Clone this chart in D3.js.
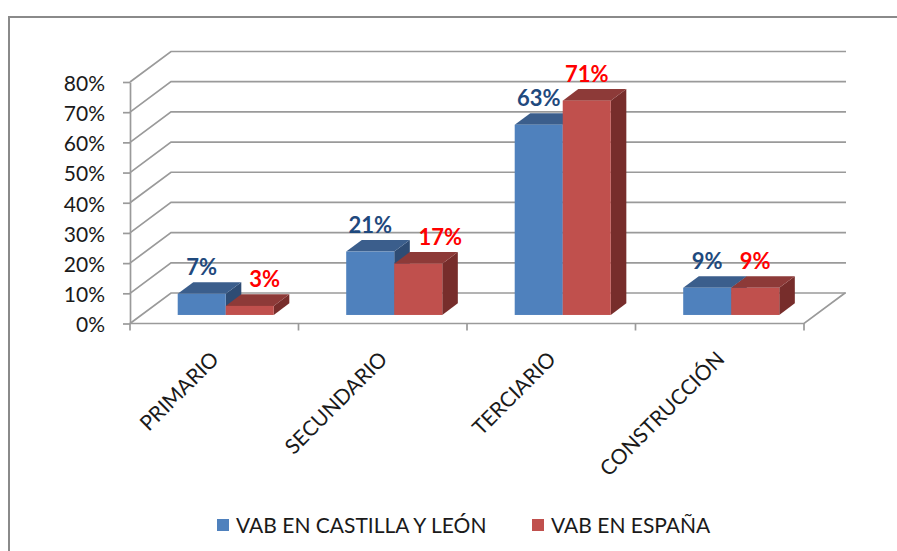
<!DOCTYPE html><html lang="es"><head><meta charset="UTF-8"><title>VAB por sectores</title><script src="https://d3js.org/d3.v7.min.js"></script><style>
        body { margin: 0; background: #fff; }
        svg { display: block; font-family: Lato, "Open Sans", sans-serif; }
        .grid { fill: none; stroke: #9a9a9a; stroke-width: 1.7px; }
        .axis path, .axis line { stroke: #9a9a9a; stroke-width: 1.7px; }
        .axis text { font-size: 21px; fill: #1a1a1a; font-family: Lato, sans-serif; }
    </style></head><body><svg id="chart"></svg><script>
        const categories = ["PRIMARIO", "SECUNDARIO", "TERCIARIO", "CONSTRUCCIÓN"];
        const series = ["VAB EN CASTILLA Y LEÓN", "VAB EN ESPAÑA"];
        const castillaLeon = [0.07, 0.21, 0.63, 0.09];
        const espana = [0.03, 0.17, 0.71, 0.09];
        const yTicks = [0, 0.1, 0.2, 0.3, 0.4, 0.5, 0.6, 0.7, 0.8];

        const width = 897, height = 551;
        const svg = d3.select("#chart").attr("width", width).attr("height", height);

        // colours per series: front, top, side, label
        const faces = [
            { front: "#4f81bd", top: "#3b5e8c", side: "#2e4c74", label: "#1f497d" },
            { front: "#c0504d", top: "#8d3a38", side: "#772d2b", label: "#ff0000" }
        ];
        // manual label nudges from the original (espana labels moved right)
        const labelNudge = { "PRIMARIO": [0, 15], "SECUNDARIO": [0, 22] };

        // 3d box: wall depth vector and where the bars sit inside it
        const wallDx = 41, wallDy = -30.5;
        const barFront = 0.28, barDepth = 0.38;

        const y = d3.scaleLinear().domain([0, 0.8]).range([323.5, 82]);
        const x = d3.scaleBand().domain(categories).range([130, 804])
            .paddingInner(0.43).paddingOuter(0.215);
        const xs = d3.scaleBand().domain(series).range([0, x.bandwidth()]);

        // frame
        svg.append("path").attr("d", "M9,560V17H900")
            .attr("fill", "none").attr("stroke", "#8a8a8a").attr("stroke-width", 2);

        // gridlines: left wall diagonal + back wall
        svg.selectAll(".grid").data(yTicks).enter().append("path")
            .attr("class", "grid")
            .attr("d", t => `M130,${y(t)}L${130 + wallDx},${y(t) + wallDy}H846`);

        // floor front edge and right edge
        svg.append("path").attr("class", "grid")
            .attr("d", `M130,${y(0)}H804L${804 + wallDx},${y(0) + wallDy}`);

        // y axis
        const yAxis = svg.append("g").attr("class", "axis")
            .attr("transform", "translate(130,0)")
            .call(d3.axisLeft(y).tickValues(yTicks).tickFormat(d3.format(".0%"))
                .tickSize(7).tickSizeOuter(0).tickPadding(18));
        yAxis.selectAll("text").attr("dy", "0.4em");

        // category ticks on the floor edge
        const step = x.step();
        svg.selectAll(".ctick").data(d3.range(categories.length + 1)).enter().append("line")
            .attr("class", "grid")
            .attr("x1", i => 130 + i * step).attr("x2", i => 130 + i * step)
            .attr("y1", y(0)).attr("y2", y(0) + 7);

        // category labels
        svg.selectAll(".clabel").data(categories).enter().append("text")
            .attr("transform", c => `translate(${x(c) + x.bandwidth() / 2 + 6},${y(0) + 37}) rotate(-45)`)
            .attr("text-anchor", "end")
            .attr("font-size", 21).attr("fill", "#1a1a1a")
            .text(c => c);

        // bars
        const fdx = wallDx * barFront, fdy = wallDy * barFront;
        const ddx = wallDx * barDepth, ddy = wallDy * barDepth;
        const bars = [];
        categories.forEach((c, i) => {
            [castillaLeon[i], espana[i]].forEach((v, s) => bars.push({ c, s, v }));
        });

        const g = svg.append("g");
        bars.forEach(b => {
            const x0 = x(b.c) + xs(series[b.s]) + fdx;
            const x1 = x0 + xs.bandwidth();
            const yb = y(0) + fdy, yt = y(b.v) + fdy;
            const f = faces[b.s];
            g.append("polygon")
                .attr("points", [[x1, yt], [x1 + ddx, yt + ddy], [x1 + ddx, yb + ddy], [x1, yb]].join(" "))
                .attr("fill", f.side);
            g.append("polygon")
                .attr("points", [[x0, yt], [x1, yt], [x1 + ddx, yt + ddy], [x0 + ddx, yt + ddy]].join(" "))
                .attr("fill", f.top);
            g.append("rect").attr("x", x0).attr("y", yt)
                .attr("width", x1 - x0).attr("height", yb - yt).attr("fill", f.front);
            const nudge = (labelNudge[b.c] || [0, 0])[b.s];
            svg.append("text")
                .attr("x", (x0 + x1) / 2 + nudge).attr("y", yt - 19)
                .attr("text-anchor", "middle")
                .attr("font-size", 22).attr("font-weight", "bold")
                .attr("fill", f.label)
                .text(d3.format(".0%")(b.v));
        });

        // legend
        const legendX = [217, 532];
        const legend = svg.selectAll(".legend").data(series).enter().append("g")
            .attr("transform", (d, i) => `translate(${legendX[i]},519)`);
        legend.append("rect").attr("width", 12).attr("height", 12)
            .attr("fill", (d, i) => faces[i].front);
        legend.append("text").attr("x", 19).attr("y", 14)
            .attr("font-size", 21).attr("fill", "#1a1a1a")
            .text(d => d);
    </script></body></html>
